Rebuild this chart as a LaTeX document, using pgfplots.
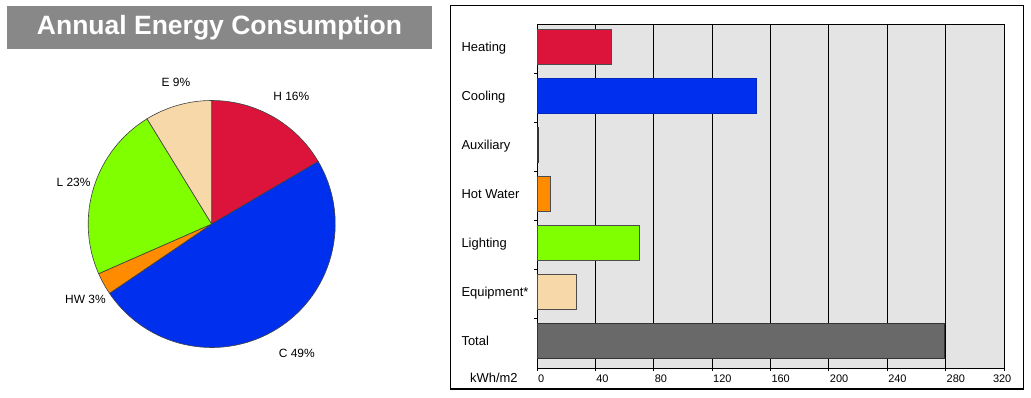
\documentclass[border=0pt]{standalone}
\usepackage{pgfplots}
\pgfplotsset{compat=1.18}
\usepackage{fontspec}
\setmainfont{Liberation Sans}
\definecolor{heat}{HTML}{DC143C}
\definecolor{cool}{HTML}{0030EE}
\definecolor{hotw}{HTML}{FF8C00}
\definecolor{light}{HTML}{7FFF00}
\definecolor{equip}{HTML}{F7D8A8}
\definecolor{tot}{HTML}{696969}
\definecolor{bg}{HTML}{E4E4E4}
\definecolor{titlebg}{HTML}{888888}
\begin{document}
\begin{tikzpicture}[x=1bp,y=-1bp]
\path[use as bounding box] (0,0) rectangle (1031,397);
% title
\fill[titlebg] (7,6) rectangle (432,49);
\node[text=white, font=\fontsize{26.6}{30}\selectfont\bfseries, inner sep=0] at (219.5,27.5) {Annual Energy Consumption};
% pie (values in kWh/m2, Auxiliary omitted)
\begin{scope}[shift={(211.7,224)}, x=1bp, y=1bp]
\gdef\ang{90}
\foreach \v/\c/\l in {50.8/heat/H 16\%, 150.2/cool/C 49\%, 8.9/hotw/HW 3\%, 70/light/L 23\%, 26.9/equip/E 9\%}{
  \pgfmathsetmacro\d{\v/306.8*360}
  \pgfmathsetmacro\e{\ang-\d}
  \pgfmathsetmacro\m{\ang-\d/2}
  \filldraw[fill=\c, draw=black!75, line width=0.6bp] (0,0) -- (\ang:123.5) arc[start angle=\ang, end angle=\e, radius=123.5] -- cycle;
  \node[font=\fontsize{12}{14}\selectfont, xshift=5bp, yshift=-3bp] at (\m:150) {\l};
  \global\let\ang\e
}
\end{scope}
% bar chart frame
\draw[line width=1.2bp] (450.5,5.5) rectangle (1023.5,389);
\node[font=\fontsize{13}{15}\selectfont, anchor=base west, inner sep=0] at (470,382) {kWh/m2};
\begin{scope}[x=1bp,y=1bp]
\begin{axis}[
  at={(537bp,-368bp)}, anchor=south west, scale only axis,
  width=467bp, height=344bp,
  xmin=0, xmax=320, ymin=-0.55, ymax=6.46,
  axis background/.style={fill=bg},
  xtick={0,40,80,120,160,200,240,280,320},
  xticklabels={0,40,80,120,160,200,240,280,\hspace*{-12bp}320},
  xmajorgrids, grid style={black, line width=0.8bp},
  tick align=outside, tick pos=left, major tick length=3bp,
  ytick={0.46,1.46,2.46,3.46,4.46,5.46}, yticklabels={},
  extra y ticks={0,1,2,3,4,5,6},
  extra y tick labels={Total,Equipment*,Lighting,Hot Water,Auxiliary,Cooling,Heating},
  extra y tick style={tick style={draw=none}, yticklabel style={anchor=base west, xshift=-76bp, yshift=-4.65bp}},
  xticklabel style={font=\fontsize{11}{13}\selectfont, anchor=north west, xshift=-2.5bp},
  yticklabel style={font=\fontsize{13}{15}\selectfont},
  /pgf/number format/assume math mode=true,
  axis line style={black, line width=0.8bp},
  tick style={black, line width=0.8bp},
]
\addplot[xbar, bar width=0.71, fill=heat, draw=black!70] coordinates {(50.8,6)};
\addplot[xbar, bar width=0.71, fill=cool, draw=cool!80!black] coordinates {(150.2,5)};
\addplot[xbar, bar width=0.71, fill=black, draw=black!80] coordinates {(0.5,4)};
\addplot[xbar, bar width=0.71, fill=hotw, draw=black!70] coordinates {(8.9,3)};
\addplot[xbar, bar width=0.71, fill=light, draw=black!70] coordinates {(70,2)};
\addplot[xbar, bar width=0.71, fill=equip, draw=black!70] coordinates {(26.9,1)};
\addplot[xbar, bar width=0.71, fill=tot, draw=black!80] coordinates {(278.9,0)};
\end{axis}
\end{scope}
\end{tikzpicture}
\end{document}
